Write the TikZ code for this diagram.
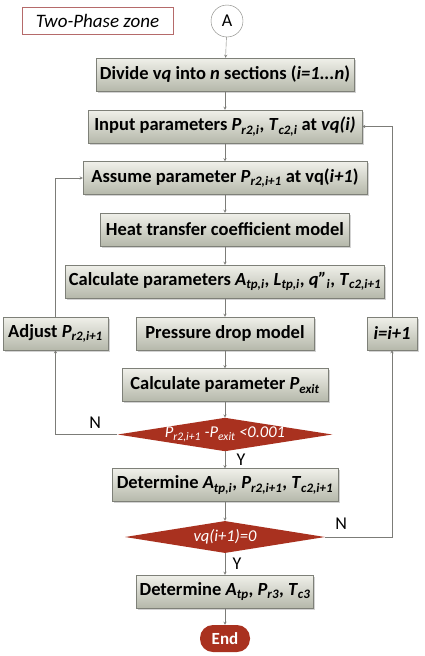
\documentclass[tikz,border=0pt]{standalone}
\usepackage{fontspec}
\setmainfont{Carlito}
\usetikzlibrary{shapes.geometric, arrows, shadows}
\definecolor{boxtop}{HTML}{F0F0EA}
\definecolor{boxbot}{HTML}{B5B8AA}
\definecolor{boxline}{HTML}{7E8078}
\definecolor{decred}{HTML}{A9311F}
\definecolor{flowgray}{HTML}{7C7C78}
\definecolor{zoneline}{HTML}{B56A6A}
\newcommand{\ssub}[1]{\textsubscript{\itshape #1}}
\tikzstyle{arrow} = [flowgray, ->, >=stealth]
\tikzstyle{stepbox} = [rectangle, draw=boxline, top color=boxtop, bottom color=boxbot, minimum height=33pt, inner sep=0pt, font=\bfseries\fontsize{18.5}{22}\selectfont, drop shadow={shadow xshift=1.5pt, shadow yshift=-1.5pt, opacity=0.35}]
\tikzstyle{decide} = [diamond, aspect=6.4, fill=decred, text=white, inner sep=0pt, font=\itshape\fontsize{16.5}{20}\selectfont]
\tikzstyle{stopnode} = [rectangle, rounded corners=13pt, fill=decred, text=white, minimum width=50pt, minimum height=27pt, font=\bfseries\fontsize{17}{20}\selectfont]
\tikzstyle{yn} = [black, font=\fontsize{18}{21}\selectfont]

\begin{document}
\begin{tikzpicture}[node distance=52pt]
		\useasboundingbox (0,0) rectangle (425pt,-656pt);
		\node (A) [circle, draw=flowgray, minimum size=32pt, inner sep=0pt, font=\fontsize{18}{21}\selectfont] at (227pt,-21pt) {A};
		\node (zone) [left of=A, xshift=-77.5pt, draw=zoneline, minimum width=151pt, minimum height=27pt, font=\itshape\fontsize{19}{22}\selectfont] {Two-Phase zone};
		\node (divide) [stepbox, below of=A, xshift=-2pt, yshift=-1.5pt, minimum width=258pt] {Divide v\textit{q} into \textit{n} sections (\textit{i=1...n})};
		\draw [arrow] (A) -- (divide);
		\node (input) [stepbox, below of=divide, minimum width=274pt] {Input parameters \textit{P}\ssub{r2,i}, \textit{T}\ssub{c2,i} at \textit{vq(i)}};
		\draw [arrow] (divide) -- (input);
		\node (assume) [stepbox, below of=input, yshift=0.5pt, minimum width=284pt] {Assume parameter \textit{P}\ssub{r2,i+1} at vq(\textit{i+1})};
		\draw [arrow] (input) -- (assume);
		\node (heat) [stepbox, below of=assume, yshift=0.5pt, minimum width=249pt] {Heat transfer coefficient model};
		\draw [arrow] (assume) -- (heat);
		\node (calc) [stepbox, below of=heat, minimum width=319pt] {Calculate parameters \textit{A}\ssub{tp,i}, \textit{L}\ssub{tp,i}, \textit{q"}\ssub{i}, \textit{T}\ssub{c2,i+1}};
		\draw [arrow] (heat) -- (calc);
		\node (drop) [stepbox, below of=calc, minimum width=178pt] {Pressure drop model};
		\draw [arrow] (calc) -- (drop);
		\node (adjust) [stepbox, left of=drop, xshift=-117.5pt, minimum width=105pt] {Adjust \textit{P}\ssub{r2,i+1}};
		\node (inc) [stepbox, right of=drop, xshift=115pt, minimum width=50pt] {\textit{i=i+1}};
		\node (pexit) [stepbox, below of=drop, yshift=0.5pt, minimum width=206pt] {Calculate parameter \textit{P}\ssub{exit}};
		\draw [arrow] (drop) -- (pexit);
		\node (conv) [decide, below of=pexit, yshift=2.5pt, minimum width=213pt, minimum height=33pt] {\textit{P}\ssub{r2,i+1} -\textit{P}\ssub{exit} <0.001};
		\draw [arrow] (pexit) -- (conv);
		\node (det) [stepbox, below of=conv, yshift=1.5pt, minimum width=226pt] {Determine \textit{A}\ssub{tp,i}, \textit{P}\ssub{r2,i+1}, \textit{T}\ssub{c2,i+1}};
		\draw [arrow] (conv) -- node [yn, right, xshift=8pt] {Y} (det);
		\node (last) [decide, below of=det, minimum width=200pt, minimum height=32pt] {vq(i+1)=0};
		\draw [arrow] (det) -- (last);
		\node (final) [stepbox, below of=last, yshift=-2.5pt, minimum width=177pt] {Determine \textit{A}\ssub{tp}, \textit{P}\ssub{r3}, \textit{T}\ssub{c3}};
		\draw [arrow] (last) -- node [yn, right, xshift=4pt] {Y} (final);
		\node (end) [stopnode, below of=final, yshift=5pt] {End};
		\draw [arrow] (final) -- (end);
		\draw [arrow] (conv) -| node [yn, pos=0.18, above, yshift=2pt] {N} (adjust);
		\draw [arrow] (adjust) |- (assume);
		\draw [arrow] (last) -| node [yn, pos=0.12, above, yshift=4pt] {N} (inc);
		\draw [arrow] (inc) |- (input);
\end{tikzpicture}
\end{document}
